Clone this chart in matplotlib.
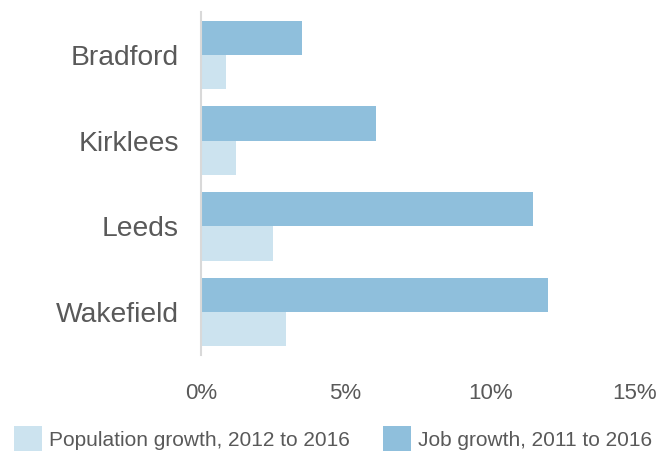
import matplotlib
matplotlib.use('Agg')
import matplotlib.pyplot as plt
import numpy as np

plt.rcParams['font.family'] = ['Liberation Sans', 'DejaVu Sans']

towns = ['Bradford', 'Kirklees', 'Leeds', 'Wakefield']
job_growth = [3.5, 6.05, 11.5, 12.0]
pop_growth = [0.87, 1.2, 2.5, 2.93]
xticks = [0, 5, 10, 15]
xtick_labels = ['0%', '5%', '10%', '15%']

job_col = '#8fbfdc'
pop_col = '#cce3ef'
txt_col = '#595959'

fig = plt.figure(figsize=(6.59, 4.51), dpi=100)
ax = fig.add_axes([0.305, 0.2129, 0.658, 0.7605])

y = np.arange(len(towns))
ax.barh(y - 0.2, job_growth, height=0.4, color=job_col, label='Job growth, 2011 to 2016')
ax.barh(y + 0.2, pop_growth, height=0.4, color=pop_col, label='Population growth, 2012 to 2016')

ax.set_ylim(3.5, -0.5)
ax.set_xlim(0, 15)
ax.set_yticks(y)
ax.set_yticklabels(towns, fontsize=20.3, color=txt_col)
ax.set_xticks(xticks)
ax.set_xticklabels(xtick_labels, fontsize=16, color=txt_col)
ax.tick_params(axis='y', length=0, pad=16)
ax.tick_params(axis='x', length=0, pad=20)

for s in ['top', 'right', 'bottom']:
    ax.spines[s].set_visible(False)
ax.spines['left'].set_color('#d9d9d9')
ax.spines['left'].set_linewidth(1.5)

h, l = ax.get_legend_handles_labels()
leg = fig.legend([h[1], h[0]], [l[1], l[0]], loc='lower left', bbox_to_anchor=(0.021, 0.0),
                 ncol=2, frameon=False, fontsize=15, handlelength=1.35, handleheight=1.45,
                 handletextpad=0.33, columnspacing=1.6, borderpad=0, borderaxespad=0)
for t in leg.get_texts():
    t.set_color(txt_col)

fig.savefig('out.png', dpi=100)
